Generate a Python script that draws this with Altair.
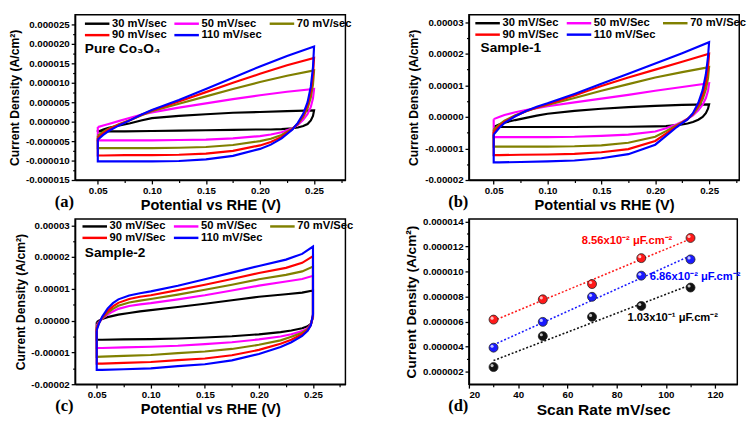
import altair as alt
import pandas as pd

FONT = "Liberation Sans"
SERIF = "Liberation Serif"

# ---------------- CV panels: labels & colours ----------------
RATES_A = ["30 mV/sec", "50 mV/sec", "70 mV/sec", "90 mV/sec", "110 mV/sec"]
RATES_BC = ["30 mV/Sec", "50 mV/Sec", "70 mV/Sec", "90 mV/Sec", "110 mV/Sec"]
CV_COLORS = ["#000000", "#ff00ff", "#808000", "#ff0000", "#0000ff"]
CV_XTICKS = [0.05, 0.10, 0.15, 0.20, 0.25]
CV_XMINOR = [0.075, 0.125, 0.175, 0.225, 0.275]

# ---------------- panel (a) Pure Co3O4, values in 1e-6 A/cm2 ----------------
A_UP_X = [0.05, 0.055, 0.06, 0.07, 0.08, 0.09, 0.10, 0.125, 0.15, 0.175, 0.20, 0.225, 0.25]
A_UP = [
    [-2.6, -2.0, -1.6, -1.0, -0.4, 0.3, 0.9, 1.5, 1.9, 2.3, 2.5, 2.7, 2.9],
    [-1.4, -1.0, -0.6, 0.2, 1.0, 1.8, 2.4, 3.6, 4.7, 5.8, 6.8, 7.7, 8.4],
    [-3.6, -2.6, -1.8, -0.6, 0.4, 1.6, 2.7, 4.6, 6.5, 8.4, 10.2, 11.8, 13.2],
    [-4.2, -3.0, -2.0, -0.7, 0.4, 1.7, 2.9, 5.2, 7.6, 10.0, 12.3, 14.5, 16.4],
    [-4.6, -3.4, -2.4, -0.9, 0.4, 1.8, 3.0, 5.6, 8.4, 11.3, 14.2, 16.9, 19.3],
]
A_LOW_X = [0.25, 0.249, 0.247, 0.244, 0.24, 0.235, 0.23, 0.22, 0.21, 0.20, 0.175, 0.15, 0.125, 0.10, 0.075, 0.055, 0.05]
A_LOW = [
    [2.9, 1.5, 0.3, -0.6, -1.1, -1.5, -1.7, -1.9, -2.0, -2.0, -2.1, -2.2, -2.3, -2.4, -2.5, -2.5, -2.5],
    [8.4, 6.0, 3.8, 2.0, 0.5, -0.8, -1.7, -2.7, -3.3, -3.7, -4.3, -4.6, -4.7, -4.8, -4.8, -4.8, -4.8],
    [13.2, 9.5, 6.2, 3.4, 1.2, -0.6, -1.8, -3.4, -4.4, -5.0, -6.0, -6.5, -6.7, -6.8, -6.8, -6.8, -6.8],
    [16.4, 12.0, 7.8, 4.3, 1.6, -0.5, -1.9, -3.9, -5.2, -6.1, -7.5, -8.2, -8.5, -8.6, -8.6, -8.7, -8.7],
    [19.3, 14.0, 9.0, 5.0, 2.0, -0.3, -2.0, -4.3, -5.9, -7.0, -8.8, -9.7, -10.1, -10.2, -10.2, -10.2, -10.2],
]
A_YTICKS = [-0.000015, -0.00001, -0.000005, 0.0, 0.000005, 0.00001, 0.000015, 0.00002, 0.000025]
A_YMINOR = [-0.0000125, -0.0000075, -0.0000025, 0.0000025, 0.0000075, 0.0000125, 0.0000175, 0.0000225]

# ---------------- panel (b) Sample-1 ----------------
B_UP_X = [0.05, 0.055, 0.06, 0.07, 0.08, 0.09, 0.10, 0.125, 0.15, 0.175, 0.20, 0.225, 0.25]
B_UP = [
    [-3.2, -2.4, -1.8, -1.0, -0.3, 0.4, 1.0, 1.9, 2.6, 3.1, 3.5, 3.8, 4.0],
    [-0.7, 0.0, 0.6, 1.5, 2.2, 2.8, 3.4, 4.6, 5.8, 7.0, 8.3, 9.5, 10.7],
    [-4.0, -2.5, -1.2, 0.5, 1.8, 2.9, 3.8, 6.0, 8.3, 10.4, 12.5, 14.2, 15.8],
    [-4.8, -3.0, -1.6, 0.3, 1.8, 3.0, 4.0, 6.8, 9.8, 12.5, 15.0, 17.5, 20.0],
    [-5.6, -3.5, -1.9, 0.2, 1.9, 3.2, 4.3, 7.3, 10.5, 13.7, 16.9, 20.2, 23.7],
]
B_LOW_X = [0.25, 0.249, 0.247, 0.244, 0.24, 0.235, 0.23, 0.225, 0.22, 0.21, 0.20, 0.175, 0.15, 0.125, 0.10, 0.075, 0.055, 0.05]
B_LOW = [
    [4.0, 2.6, 1.2, 0.0, -0.9, -1.6, -2.1, -2.4, -2.6, -2.9, -3.0, -3.1, -3.1, -3.2, -3.2, -3.2, -3.2, -3.2],
    [10.7, 8.3, 6.0, 3.9, 2.1, 0.5, -0.6, -1.5, -2.3, -3.6, -4.6, -5.6, -6.0, -6.3, -6.4, -6.4, -6.4, -6.4],
    [15.8, 12.2, 8.7, 5.6, 3.0, 0.8, -0.6, -1.7, -2.6, -4.5, -6.3, -8.2, -9.0, -9.3, -9.4, -9.4, -9.4, -9.4],
    [20.0, 15.5, 11.0, 7.0, 3.8, 1.0, -0.7, -1.9, -2.9, -5.3, -7.6, -10.2, -11.2, -11.7, -11.9, -12.0, -12.1, -12.1],
    [23.7, 19.0, 13.5, 8.5, 4.5, 1.2, -0.8, -2.0, -3.2, -6.0, -8.8, -11.8, -13.1, -13.8, -14.1, -14.3, -14.4, -14.4],
]
BC_YTICKS = [-0.00002, -0.00001, 0.0, 0.00001, 0.00002, 0.00003]
BC_YMINOR = [-0.000015, -0.000005, 0.000005, 0.000015, 0.000025]

# ---------------- panel (c) Sample-2 ----------------
C_UP_X = [0.05, 0.052, 0.055, 0.06, 0.065, 0.07, 0.08, 0.09, 0.10, 0.125, 0.15, 0.175, 0.20, 0.225, 0.24, 0.25]
C_UP = [
    [-0.5, 0.0, 0.5, 1.1, 1.5, 1.9, 2.4, 2.9, 3.3, 4.3, 5.3, 6.4, 7.5, 8.3, 8.8, 9.5],
    [-1.5, -0.4, 0.6, 1.9, 2.9, 3.7, 4.6, 5.1, 5.5, 6.7, 8.0, 9.5, 11.0, 12.3, 13.1, 14.1],
    [-2.0, -0.6, 0.7, 2.4, 3.7, 4.7, 5.7, 6.3, 6.8, 8.2, 9.7, 11.3, 13.0, 14.4, 15.5, 17.0],
    [-2.5, -0.8, 0.9, 3.0, 4.5, 5.6, 6.8, 7.5, 8.0, 9.6, 11.3, 13.1, 15.0, 16.6, 18.2, 20.3],
    [-3.0, -1.0, 1.2, 3.8, 5.5, 6.7, 7.9, 8.6, 9.2, 11.0, 13.0, 15.1, 17.2, 19.2, 21.0, 23.3],
]
C_LOW_X = [0.25, 0.25, 0.248, 0.245, 0.24, 0.23, 0.22, 0.20, 0.175, 0.15, 0.125, 0.10, 0.075, 0.055, 0.05]
C_LOW = [
    [9.5, 1.0, -1.0, -1.8, -2.4, -3.1, -3.6, -4.3, -4.9, -5.3, -5.6, -5.8, -5.9, -6.0, -6.0],
    [14.1, 1.2, -1.2, -2.4, -3.3, -4.3, -5.0, -5.9, -6.8, -7.4, -7.9, -8.2, -8.4, -8.6, -8.6],
    [17.0, 1.5, -1.3, -2.7, -3.8, -5.1, -6.2, -7.6, -8.9, -9.7, -10.2, -10.8, -11.1, -11.3, -11.4],
    [20.3, 1.8, -1.4, -3.0, -4.3, -6.0, -7.3, -9.2, -10.9, -11.9, -12.4, -13.0, -13.3, -13.5, -13.5],
    [23.3, 2.0, -1.5, -3.2, -4.8, -6.8, -8.3, -10.5, -12.5, -13.7, -14.3, -15.0, -15.3, -15.5, -15.5],
]

# ---------------- panel (d) scan-rate dependence ----------------
SCAN_RATE = [30, 50, 70, 90, 110]
J_PURE = [2.37, 4.84, 6.38, 7.25, 8.72]
J_S1 = [6.16, 7.78, 9.00, 11.07, 12.68]
J_S2 = [3.92, 5.98, 7.98, 9.67, 10.97]
SAMPLES = ["Pure Co\u2083O\u2084", "Sample-1", "Sample-2"]
D_COLORS = ["#111111", "#ff1a1a", "#1a1aff"]
D_XTICKS = [20, 40, 60, 80, 100, 120]
D_XMINOR = [30, 50, 70, 90, 110]
D_YTICKS = [0.000002, 0.000004, 0.000006, 0.000008, 0.00001, 0.000012, 0.000014]
D_YMINOR = [0.000003, 0.000005, 0.000007, 0.000009, 0.000011, 0.000013]
D_NOTES = ["8.56x10\u207b\u00b2 \u03bcF.cm\u207b\u00b2", "6.86x10\u207b\u00b2 \u03bcF.cm\u207b\u00b2", "1.03x10\u207b\u00b9 \u03bcF.cm\u207b\u00b2"]
D_NOTE_COLORS = ["#ff0000", "#0000ff", "#000000"]

W, H = 278, 170
DW = 276
MINUS_FIX = "replace(datum.label, '\u2212', '-')"
YTITLE = "Current Density (A/cm\u00b2)"


def cv_frame(up_x, uppers, low_x, lowers, labels):
    rows = []
    for lab, up, low in zip(labels, uppers, lowers):
        pts = list(zip(up_x, up)) + list(zip(low_x, low)) + [(up_x[0], up[0])]
        for i, (xv, yv) in enumerate(pts):
            rows.append({"x": xv, "y": yv * 1e-6, "rate": lab, "ord": i})
    return pd.DataFrame(rows)


def minor_layer(df, xf, yf, xminor, yminor):
    return alt.Chart(df).mark_point(opacity=0).encode(
        x=alt.X(xf, axis=alt.Axis(orient="bottom", values=xminor, labels=False, title=None,
                                  domain=False, tickSize=2.5, tickWidth=1.2)),
        y=alt.Y(yf, axis=alt.Axis(orient="left", values=yminor, labels=False, title=None,
                                  domain=False, tickSize=2.5, tickWidth=1.2)),
    )


def text_layer(text, px, py, size, color="black", font=FONT, align="left"):
    return alt.Chart(alt.Data(values=[{"t": text}])).mark_text(
        align=align, baseline="middle", fontSize=size, fontWeight="bold", font=font, color=color
    ).encode(x=alt.value(px), y=alt.value(py), text="t:N")


def cv_panel(df, labels, xdom, ydom, yticks, yminor, yfmt, name_text, name_xy, letter, leg_xy):
    legend = alt.Legend(
        orient="none", legendX=leg_xy[0], legendY=leg_xy[1], columns=3, direction="horizontal",
        title=None, symbolType="M-1.2,0H4.4", symbolSize=81, symbolStrokeWidth=2.5,
        labelFont=FONT, labelFontWeight="bold", labelFontSize=11.5, labelColor="black",
        labelOffset=16.5, rowPadding=0, columnPadding=2, padding=0,
    )
    lines = alt.Chart(df).mark_line(strokeWidth=2.2, clip=True).encode(
        x=alt.X("x:Q", scale=alt.Scale(domain=xdom, nice=False, zero=False),
                axis=alt.Axis(values=CV_XTICKS, format=".2f", title="Potential vs RHE (V)",
                              titleFontSize=15, titlePadding=2, labelOverlap=False)),
        y=alt.Y("y:Q", scale=alt.Scale(domain=ydom, nice=False, zero=False),
                axis=alt.Axis(values=yticks, format=yfmt, labelExpr=MINUS_FIX, title=YTITLE,
                              titleFontSize=12.5, titlePadding=4, labelOverlap=False)),
        color=alt.Color("rate:N", scale=alt.Scale(domain=labels, range=CV_COLORS), legend=legend),
        order=alt.Order("ord:Q"),
    )
    main = alt.layer(lines,
                     text_layer(name_text, name_xy[0], name_xy[1], 14),
                     text_layer(letter, -11, H + 23, 17, font=SERIF, align="center"))
    minor = minor_layer(df, "x:Q", "y:Q", CV_XMINOR, yminor)
    return alt.layer(main, minor).resolve_axis(x="independent", y="independent").properties(width=W, height=H)


pa = cv_panel(cv_frame(A_UP_X, A_UP, A_LOW_X, A_LOW, RATES_A), RATES_A,
              [0.029, 0.279], [-0.000015, 0.0000275], A_YTICKS, A_YMINOR, ".6f",
              "Pure Co\u2083O\u2084", (10, 35), "(a)", (9.5, 3))
pb = cv_panel(cv_frame(B_UP_X, B_UP, B_LOW_X, B_LOW, RATES_BC), RATES_BC,
              [0.027, 0.278], [-0.00002, 0.0000324], BC_YTICKS, BC_YMINOR, ".5f",
              "Sample-1", (12, 34), "(b)", (6, 2.5))
pc = cv_panel(cv_frame(C_UP_X, C_UP, C_LOW_X, C_LOW, RATES_BC), RATES_BC,
              [0.03, 0.28], [-0.00002, 0.000032], BC_YTICKS, BC_YMINOR, ".5f",
              "Sample-2", (10, 35), "(c)", (7, 1.5))

# ---------------- panel (d) ----------------
drows = []
for s, vals in zip(SAMPLES, [J_PURE, J_S1, J_S2]):
    for r, v in zip(SCAN_RATE, vals):
        drows.append({"rate": r, "j": v * 1e-6, "sample": s})
ddf = pd.DataFrame(drows)

dx = alt.X("rate:Q", scale=alt.Scale(domain=[20, 129], nice=False, zero=False),
           axis=alt.Axis(values=D_XTICKS, format="d", title="Scan Rate mV/sec",
                         titleFontSize=16, titlePadding=2, labelOverlap=False))
dy = alt.Y("j:Q", scale=alt.Scale(domain=[0.000001, 0.0000142], nice=False, zero=False),
           axis=alt.Axis(values=D_YTICKS, format=".6f", title=YTITLE, titleFontSize=14,
                         titlePadding=4, labelOverlap=False))
dcolor_scale = alt.Scale(domain=SAMPLES, range=D_COLORS)
dlegend = alt.Legend(orient="none", legendX=12, legendY=2, title=None, symbolType="circle",
                     symbolSize=80, symbolStrokeColor="#222222", symbolStrokeWidth=0.8,
                     labelFont=FONT, labelFontWeight="bold", labelFontSize=12, labelColor="black",
                     labelOffset=9, rowPadding=3, padding=0)

fit = alt.Chart(ddf).transform_regression("rate", "j", groupby=["sample"]).mark_line(
    strokeDash=[2, 2], strokeWidth=1.6
).encode(x=dx, y=dy, color=alt.Color("sample:N", scale=dcolor_scale, legend=None))
pts = alt.Chart(ddf).mark_circle(size=85, opacity=1, stroke="#222222", strokeWidth=0.8).encode(
    x=dx, y=dy, color=alt.Color("sample:N", scale=dcolor_scale, legend=dlegend))
shine = alt.Chart(ddf).mark_circle(size=10, color="white", opacity=0.75, xOffset=-1.5, yOffset=-1.5).encode(
    x=dx, y=dy)

# annotation anchors (pixels within the panel-d plot area)
n1 = text_layer(D_NOTES[0], 116, 23, 11.5, D_NOTE_COLORS[0])
n2 = text_layer(D_NOTES[1], 186, 60, 11.5, D_NOTE_COLORS[1])
n3 = text_layer(D_NOTES[2], 163, 102, 11.5, D_NOTE_COLORS[2])

dmain = alt.layer(fit, pts, shine, n1, n2, n3, text_layer("(d)", -11, H + 23, 17, font=SERIF, align="center"))
dminor = minor_layer(ddf, "rate:Q", "j:Q", D_XMINOR, D_YMINOR)
pd_ = alt.layer(dmain, dminor).resolve_axis(x="independent", y="independent").properties(width=DW, height=H)

chart = alt.concat(pa, pb, pc, pd_, columns=2, spacing={"row": 2, "column": 50}).resolve_scale(
    color="independent"
).properties(padding=0, background="white").configure(font=FONT).configure_axis(
    domainColor="black", domainWidth=1.5, tickColor="black", tickWidth=1.3, tickSize=4,
    labelFont=FONT, labelFontSize=10, labelFontWeight="bold", labelColor="black", labelPadding=2,
    labelOverlap=False, titleFont=FONT, titleFontWeight="bold", titleColor="black", grid=False
).configure_view(stroke="black", strokeWidth=1.5)

chart.save("out.html", embed_options={"renderer": "svg", "actions": False})
